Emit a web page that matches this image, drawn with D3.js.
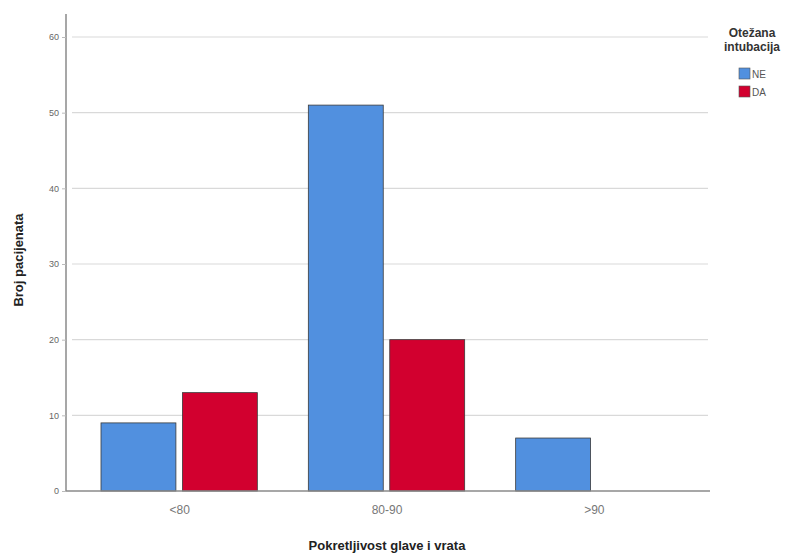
<!DOCTYPE html>
<html><head><meta charset="utf-8">
<script src="https://cdn.jsdelivr.net/npm/d3@7"></script>
<style>body{margin:0;background:#fff;} text{font-family:Arial,"Liberation Sans",sans-serif;}</style>
</head><body>
<svg id="c" width="800" height="553"></svg>
<script>
const categories = ["<80", "80-90", ">90"];
const seriesNames = ["NE", "DA"];
const valuesNE = [9, 51, 7];
const valuesDA = [13, 20, 0];
const yTicks = [0, 10, 20, 30, 40, 50, 60];
const colors = ["#5190df", "#d2002f"];

const svg = d3.select("#c");
const x = d3.scaleBand().domain(categories).range([76, 698]);
const xs = d3.scaleBand().domain(seriesNames).range([25, x.bandwidth() - 26]).paddingInner(0.08);
const y = d3.scaleLinear().domain([0, 60]).range([491, 37]);

// gridlines
svg.append("g").selectAll("line").data(yTicks.filter(d => d > 0)).join("line")
  .attr("x1", 72).attr("x2", 708).attr("y1", d => y(d)).attr("y2", d => y(d))
  .attr("stroke", "#d9d9d9").attr("stroke-width", 1.2);

// bars
const data = [];
categories.forEach((c, i) => {
  data.push({c, s: "NE", v: valuesNE[i]});
  data.push({c, s: "DA", v: valuesDA[i]});
});
svg.append("g").selectAll("rect").data(data.filter(d => d.v > 0)).join("rect")
  .attr("x", d => x(d.c) + xs(d.s))
  .attr("width", xs.bandwidth())
  .attr("y", d => y(d.v))
  .attr("height", d => y(0) - y(d.v))
  .attr("fill", d => colors[seriesNames.indexOf(d.s)])
  .attr("stroke", "#3a3a3a").attr("stroke-width", 0.8);

// y axis
const yAxis = d3.axisLeft(y).tickValues(yTicks).tickSize(4).tickPadding(3);
const gy = svg.append("g").attr("transform", "translate(66,0)").call(yAxis);
gy.select(".domain").attr("d", "M0,14V491").attr("stroke", "#8a8a8a").attr("stroke-width", 1.5);
gy.selectAll(".tick line").attr("stroke", "#bbb");
gy.selectAll(".tick text").attr("fill", "#666").attr("font-size", 9);

// x axis
const xAxis = d3.axisBottom(x).tickSize(0).tickPadding(14);
const gx = svg.append("g").attr("transform", "translate(0,491)").call(xAxis);
gx.select(".domain").attr("d", "M66,0H710").attr("stroke", "#8a8a8a").attr("stroke-width", 1.5);
gx.selectAll(".tick text").attr("fill", "#777").attr("font-size", 12);

// axis titles
svg.append("text").attr("x", 387).attr("y", 550).attr("text-anchor", "middle")
  .attr("font-size", 13).attr("font-weight", "bold").attr("fill", "#222").text("Pokretljivost glave i vrata");
svg.append("text").attr("transform", "translate(23,260) rotate(-90)").attr("text-anchor", "middle")
  .attr("font-size", 13).attr("font-weight", "bold").attr("fill", "#222").text("Broj pacijenata");

// legend
const lg = svg.append("g");
lg.append("text").attr("x", 752).attr("y", 37).attr("text-anchor", "middle").attr("font-size", 12)
  .attr("font-weight", "bold").attr("fill", "#333").text("Otežana");
lg.append("text").attr("x", 752).attr("y", 51).attr("text-anchor", "middle").attr("font-size", 12)
  .attr("font-weight", "bold").attr("fill", "#333").text("intubacija");
seriesNames.forEach((s, i) => {
  lg.append("rect").attr("x", 739).attr("y", 68 + i * 18).attr("width", 11).attr("height", 11)
    .attr("fill", colors[i]).attr("stroke", "#555").attr("stroke-width", 0.6);
  lg.append("text").attr("x", 752).attr("y", 78 + i * 18).attr("font-size", 10).attr("fill", "#555").text(s);
});
</script>
</body></html>
